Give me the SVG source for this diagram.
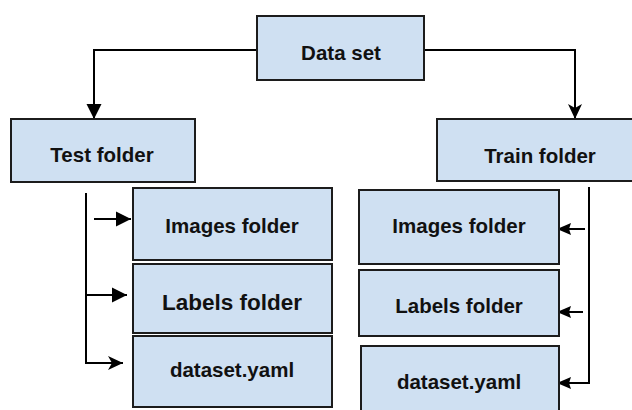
<svg xmlns="http://www.w3.org/2000/svg" width="632" height="410" viewBox="0 0 632 410">
  <defs>
    <style>
      .box { fill: #cfe0f2; stroke: #1c1c1c; stroke-width: 2; }
      .lbl { font-family: "Liberation Sans", Arial, sans-serif; font-weight: bold; font-size: 20.5px; fill: #111; text-anchor: middle; }
      .con { fill: none; stroke: #000; stroke-width: 2; }
    </style>
    <marker id="arr" markerUnits="userSpaceOnUse" markerWidth="18" markerHeight="18" viewBox="0 0 18 18" refX="15" refY="9" orient="auto">
      <path d="M0,1.5 L15,9 L0,16.5 Z" fill="#000"/>
    </marker>
    <marker id="stealth" markerUnits="userSpaceOnUse" markerWidth="18" markerHeight="18" viewBox="0 0 18 18" refX="15" refY="9" orient="auto">
      <path d="M0,2 L15,9 L0,16 L4,9 Z" fill="#000"/>
    </marker>
    <marker id="small" markerUnits="userSpaceOnUse" markerWidth="16" markerHeight="14" viewBox="0 0 16 14" refX="14" refY="7" orient="auto">
      <path d="M0,1 L14,7 L0,13 L2,7 Z" fill="#000"/>
    </marker>
  </defs>

  <g id="connectors">
    <path class="con" d="M257,50 H94 V119" marker-end="url(#arr)"/>
    <path class="con" d="M424,50 H575 V119" marker-end="url(#stealth)"/>
    <path class="con" d="M94,219 H131" marker-end="url(#arr)"/>
    <path class="con" d="M86,193 V363 H123" marker-end="url(#stealth)"/>
    <path class="con" d="M86,295 H127" marker-end="url(#arr)"/>
    <path class="con" d="M585,229 H557" marker-end="url(#small)"/>
    <path class="con" d="M583,312 H557" marker-end="url(#small)"/>
    <path class="con" d="M589,187 V383 H557" marker-end="url(#small)"/>
  </g>

  <g id="dataset">
    <rect class="box" x="257" y="16" width="167" height="64"/>
    <text class="lbl" x="341" y="60">Data set</text>
  </g>
  <g id="test-folder">
    <rect class="box" x="11" y="119" width="184" height="63"/>
    <text class="lbl" x="102" y="162">Test folder</text>
  </g>
  <g id="train-folder">
    <rect class="box" x="437" y="119" width="196" height="62"/>
    <text class="lbl" x="540" y="163">Train folder</text>
  </g>

  <g id="test-images">
    <rect class="box" x="133" y="188" width="199" height="72"/>
    <text class="lbl" x="232" y="233">Images folder</text>
  </g>
  <g id="test-labels">
    <rect class="box" x="133" y="264" width="199" height="69"/>
    <text class="lbl" x="232" y="310" style="font-size:22.5px">Labels folder</text>
  </g>
  <g id="test-yaml">
    <rect class="box" x="133" y="336" width="199" height="71"/>
    <text class="lbl" x="232" y="377">dataset.yaml</text>
  </g>

  <g id="train-images">
    <rect class="box" x="359" y="190" width="200" height="74"/>
    <text class="lbl" x="459" y="233">Images folder</text>
  </g>
  <g id="train-labels">
    <rect class="box" x="359" y="270" width="200" height="66"/>
    <text class="lbl" x="459" y="313">Labels folder</text>
  </g>
  <g id="train-yaml">
    <rect class="box" x="361" y="346" width="198" height="70"/>
    <text class="lbl" x="459" y="389">dataset.yaml</text>
  </g>
</svg>
